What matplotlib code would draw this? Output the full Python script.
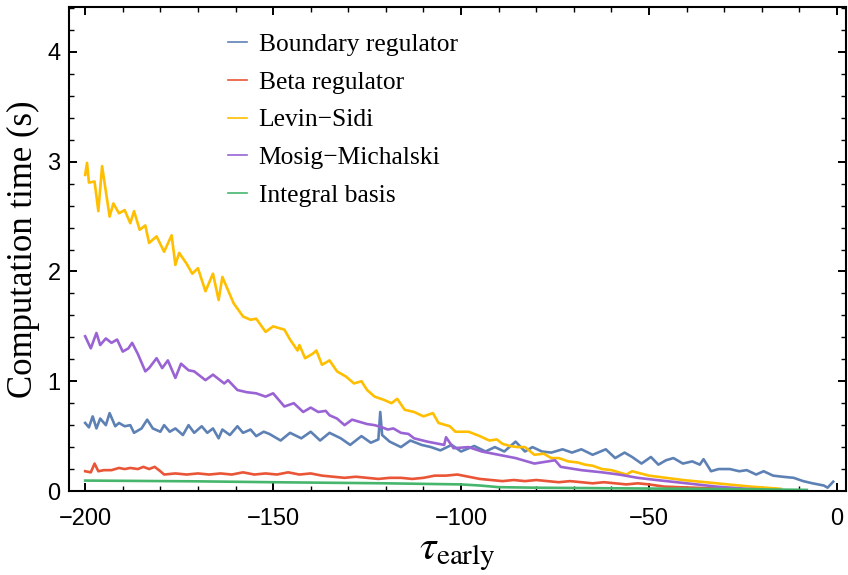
import numpy as np
import matplotlib
matplotlib.use("Agg")
import matplotlib.pyplot as plt
from matplotlib.ticker import MultipleLocator

plt.rcParams['mathtext.fontset'] = 'stix'
plt.rcParams['axes.unicode_minus'] = True

# ------------------------------------------------------
# data
# ------------------------------------------------------
boundary_x = [
    -200, -199, -198, -197, -196, -194.5, -193.5, -192, -191, -189.5,
    -188, -187, -185, -183.5, -182, -180, -179, -177.5, -176, -174,
    -172.5, -171, -169, -167.5, -166, -164.5, -163.5, -161.5, -159.5, -158,
    -156, -154.5, -152.5, -151, -148, -145.5, -142.5, -140, -137.5, -135,
    -132, -129.5, -126.5, -124, -122, -121.5, -121, -119, -116, -113.5,
    -110.5, -108, -105.5, -102.5, -100, -96.5, -93.5, -91, -88.5, -85.5,
    -83, -81, -78.5, -76, -73, -70.5, -68, -65, -61.5, -59,
    -56.5, -54.5, -52, -49.5, -47.5, -45.5, -43.5, -41, -38.5, -36.5,
    -35.5, -33.5, -31.5, -28.5, -26, -24, -21.5, -19.5, -17, -14.5,
    -11.5, -9, -6.5, -3.5, -2.5, -1,
]
boundary_y = [
    0.62, 0.58, 0.68, 0.57, 0.66, 0.60, 0.71, 0.59, 0.62, 0.59,
    0.60, 0.53, 0.57, 0.65, 0.57, 0.54, 0.60, 0.54, 0.57, 0.51,
    0.60, 0.53, 0.59, 0.53, 0.57, 0.48, 0.56, 0.51, 0.59, 0.53,
    0.56, 0.50, 0.54, 0.52, 0.46, 0.53, 0.48, 0.54, 0.46, 0.53,
    0.48, 0.42, 0.50, 0.44, 0.47, 0.72, 0.51, 0.45, 0.40, 0.46,
    0.42, 0.40, 0.37, 0.42, 0.36, 0.41, 0.36, 0.40, 0.36, 0.45,
    0.36, 0.40, 0.36, 0.35, 0.38, 0.35, 0.38, 0.33, 0.38, 0.30,
    0.35, 0.31, 0.25, 0.31, 0.24, 0.28, 0.30, 0.25, 0.27, 0.24,
    0.29, 0.18, 0.20, 0.20, 0.18, 0.19, 0.15, 0.18, 0.14, 0.13,
    0.12, 0.09, 0.07, 0.05, 0.03, 0.085,
]

beta_x = [
    -200, -198.5, -197.5, -196.5, -195, -193, -191, -189.5, -188, -186,
    -184.5, -183, -181.5, -180, -179, -176, -173, -170, -167, -164,
    -161, -158, -155, -152, -149, -146, -143, -140, -137, -134,
    -131, -128, -125, -122, -119, -116, -113, -110, -107, -104,
    -101, -98, -95, -92, -89, -86, -83, -80, -77, -74,
    -71, -68, -65, -62, -59, -56, -53, -50, -46, -42,
    -38, -34, -30, -26, -22, -18, -15,
]
beta_y = [
    0.18, 0.17, 0.25, 0.18, 0.19, 0.19, 0.21, 0.20, 0.21, 0.20,
    0.22, 0.20, 0.22, 0.18, 0.15, 0.16, 0.15, 0.16, 0.15, 0.16,
    0.15, 0.17, 0.15, 0.16, 0.15, 0.17, 0.15, 0.16, 0.14, 0.13,
    0.12, 0.13, 0.12, 0.11, 0.12, 0.12, 0.11, 0.12, 0.14, 0.14,
    0.15, 0.13, 0.11, 0.10, 0.09, 0.10, 0.09, 0.10, 0.09, 0.08,
    0.09, 0.08, 0.07, 0.08, 0.07, 0.06, 0.07, 0.06, 0.04, 0.035,
    0.03, 0.025, 0.02, 0.015, 0.01, 0.008, 0.005,
]

levin_x = [
    -200, -199.5, -199, -197.5, -196.5, -195.5, -193.5, -192.5, -191, -189.5,
    -188, -187, -185.5, -184, -183, -181, -179, -177, -176, -175,
    -173, -171.5, -170, -168, -166, -164.5, -163.5, -160.5, -158, -156,
    -154.5, -152, -150, -147, -145.5, -143.5, -143, -141.5, -139.5, -138.5,
    -137, -135, -133, -130.5, -128.5, -126.5, -125, -123, -120.5, -118.5,
    -117, -115, -112.5, -110, -107.5, -106, -103, -101.5, -98, -95,
    -92.5, -90.5, -89, -87, -85, -83, -80.5, -78, -76, -74,
    -71.5, -69, -67, -65, -62.5, -60, -58, -56, -54.5,
    -50, -45.5, -41, -36.5, -32, -27.5, -23, -19, -15,
]
levin_y = [
    2.88, 2.99, 2.81, 2.82, 2.55, 2.96, 2.50, 2.62, 2.53, 2.56,
    2.44, 2.55, 2.38, 2.42, 2.26, 2.32, 2.18, 2.33, 2.06, 2.17,
    2.07, 1.98, 2.03, 1.82, 1.98, 1.74, 1.95, 1.71, 1.59, 1.56,
    1.57, 1.45, 1.50, 1.47, 1.38, 1.28, 1.33, 1.21, 1.25, 1.28,
    1.15, 1.19, 1.09, 1.04, 0.98, 1.00, 0.92, 0.86, 0.83, 0.80,
    0.84, 0.74, 0.72, 0.68, 0.71, 0.62, 0.59, 0.54, 0.54, 0.50,
    0.46, 0.47, 0.43, 0.41, 0.40, 0.40, 0.33, 0.34, 0.30, 0.30,
    0.27, 0.26, 0.24, 0.23, 0.20, 0.19, 0.17, 0.15, 0.18,
    0.14, 0.12, 0.10, 0.085, 0.07, 0.055, 0.04, 0.03, 0.02,
]

mosig_x = [
    -200, -198.5, -197, -196, -194.5, -193, -191.5, -190, -188.5, -187.5,
    -186, -184, -183, -181, -179.5, -178, -176, -174.5, -172.5, -171,
    -168, -166, -163, -162, -159.5, -157, -154.5, -152, -150, -147,
    -144.5, -142, -140, -138, -136, -135, -133, -131, -129, -127,
    -125, -123, -121, -119.5, -118, -116, -114, -112.5,
    -109, -104.5, -104, -102, -98, -94.5, -90, -85.5, -80.5, -75,
    -73.5, -68, -62.5, -58, -53, -48, -44, -40, -36, -32,
    -28, -24, -20,
]
mosig_y = [
    1.41, 1.30, 1.44, 1.33, 1.39, 1.35, 1.38, 1.27, 1.30, 1.35,
    1.25, 1.09, 1.12, 1.21, 1.12, 1.19, 1.03, 1.16, 1.10, 1.09,
    1.01, 1.06, 0.98, 1.01, 0.92, 0.90, 0.89, 0.86, 0.89, 0.77,
    0.80, 0.72, 0.76, 0.72, 0.73, 0.69, 0.66, 0.60, 0.65, 0.63,
    0.61, 0.60, 0.58, 0.56, 0.57, 0.53, 0.52, 0.48,
    0.45, 0.42, 0.49, 0.39, 0.40, 0.36, 0.33, 0.30, 0.25, 0.28,
    0.22, 0.19, 0.17, 0.15, 0.12, 0.10, 0.085, 0.07, 0.055, 0.04,
    0.03, 0.02, 0.015,
]

integral_x = [-200, -170, -150, -120, -100, -95, -90, -80, -60, -40, -20, -8]
integral_y = [0.095, 0.088, 0.08, 0.07, 0.06, 0.05, 0.035, 0.03, 0.025, 0.02, 0.015, 0.01]

series = [
    ("Boundary regulator", boundary_x, boundary_y, "#5E81B5"),
    ("Beta regulator", beta_x, beta_y, "#E95536"),
    ("Levin\u2212Sidi", levin_x, levin_y, "#FFBF00"),
    ("Mosig\u2212Michalski", mosig_x, mosig_y, "#9A63D4"),
    ("Integral basis", integral_x, integral_y, "#47B66D"),
]

# ------------------------------------------------------
# plot
# ------------------------------------------------------
fig = plt.figure(figsize=(8.48, 5.75), dpi=100)
ax = fig.add_axes([69 / 848, 1 - 491 / 575, 777 / 848, 484 / 575])

for name, xs, ys, col in series:
    ax.plot(xs, ys, color=col, lw=1.9, label=name, solid_joinstyle='round')

ax.set_xlim(-204.3, 2.4)
ax.set_ylim(0, 4.41)

ax.xaxis.set_major_locator(MultipleLocator(50))
ax.xaxis.set_minor_locator(MultipleLocator(10))
ax.yaxis.set_major_locator(MultipleLocator(1))
ax.yaxis.set_minor_locator(MultipleLocator(0.2))

ax.tick_params(which='both', direction='in', top=True, right=True,
               labelsize=17, labelfontfamily='Liberation Sans')
ax.tick_params(which='major', length=6, width=1.4)
ax.tick_params(which='minor', length=3.5, width=1.0)
ax.tick_params(axis='x', pad=12)
ax.tick_params(axis='y', pad=6)
for sp in ax.spines.values():
    sp.set_linewidth(1.5)

ax.set_ylabel("Computation time (s)", fontsize=25, family='Liberation Serif')
ax.yaxis.set_label_coords(-0.037, 0.5)
ax.set_xlabel(r"$\tau_{\mathrm{early}}$", fontsize=30, labelpad=1)

leg = ax.legend(loc='upper left', bbox_to_anchor=(0.2046, 0.946), frameon=False,
                prop={'family': 'Liberation Serif', 'size': 18.4},
                handlelength=0.75, handletextpad=0.45, labelspacing=0.58,
                borderpad=0, borderaxespad=0)
for h in leg.get_lines():
    h.set_linewidth(1.2)

fig.savefig("out.png", dpi=100)
